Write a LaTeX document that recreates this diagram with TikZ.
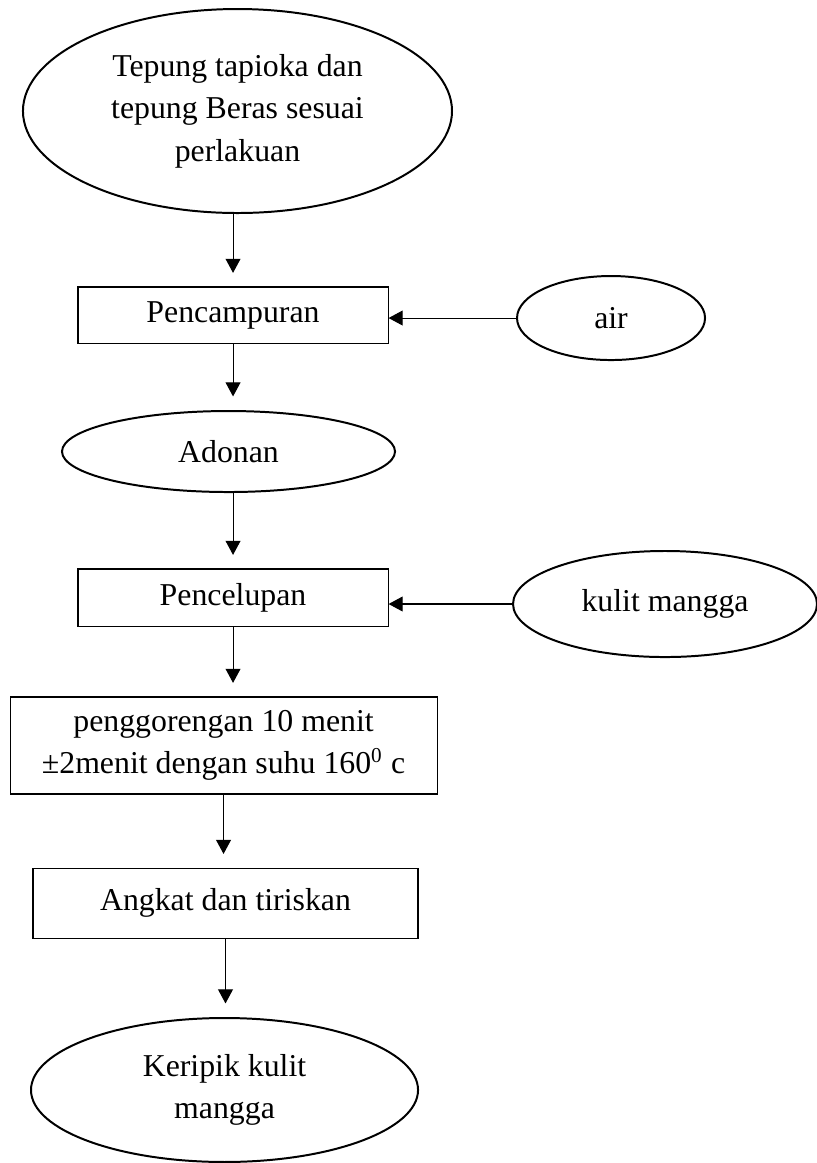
\documentclass[tikz,border=0pt]{standalone}
\usepackage{fontspec}
\setmainfont{Liberation Serif}
\usepackage{tikz}
\usetikzlibrary{shapes.geometric}
\usetikzlibrary{arrows.meta}
\usetikzlibrary{calc}
\begin{document}
\begin{tikzpicture}[
    font=\fontsize{12}{16}\selectfont,
    proses/.style={draw,thin,rectangle,inner sep=0pt,align=center},
    bahan/.style={draw,line width=0.75pt,ellipse,inner sep=0pt,align=center},
    panah/.style={-{Triangle[length=5.3pt,width=5.6pt]},thin},
    panahbawah/.style={panah,shorten >=0.18cm}
  ]
            \useasboundingbox (0,0) rectangle (10.833,-15.421);
            \node[bahan,minimum width=5.689cm,minimum height=2.705cm] (tepung) at (3.149,-1.472) {Tepung tapioka dan\\tepung Beras sesuai\\perlakuan};
            \node[proses,minimum width=4.111cm,minimum height=0.743cm] (campur) at (3.090,-4.177) {Pencampuran};
            \node[bahan,minimum width=2.493cm,minimum height=1.114cm] (air) at (8.102,-4.217) {air};
            \node[bahan,minimum width=4.416cm,minimum height=1.074cm] (adonan) at (3.030,-5.987) {Adonan};
            \node[proses,minimum width=4.111cm,minimum height=0.756cm] (celup) at (3.090,-7.923) {Pencelupan};
            \node[bahan,minimum width=4.031cm,minimum height=1.406cm] (kulit) at (8.818,-8.009) {kulit mangga};
            \node[proses,minimum width=5.662cm,minimum height=1.286cm] (goreng) at (2.964,-9.885) {penggorengan 10 menit\\±2menit dengan suhu 160\textsuperscript{0} c};
            \node[proses,minimum width=5.105cm,minimum height=0.928cm] (angkat) at (2.990,-11.974) {Angkat dan tiriskan};
            \node[bahan,minimum width=5.132cm,minimum height=1.909cm] (keripik) at (2.977,-14.453) {Keripik kulit\\mangga};
            \draw[panahbawah] (tepung.south -| campur.north) -- (campur.north);
            \draw[panah] (air.west) -- (air.west -| campur.east);
            \draw[panahbawah] (campur.south) -- (campur.south |- adonan.north);
            \draw[panahbawah] (adonan.south -| celup.north) -- (celup.north);
            \draw[panah] (kulit.west) -- (kulit.west -| celup.east);
            \draw[panahbawah] (celup.south) -- (celup.south |- goreng.north);
            \draw[panahbawah] (goreng.south) -- (goreng.south |- angkat.north);
            \draw[panahbawah] (angkat.south) -- (angkat.south |- keripik.north);
        \end{tikzpicture}
\end{document}
